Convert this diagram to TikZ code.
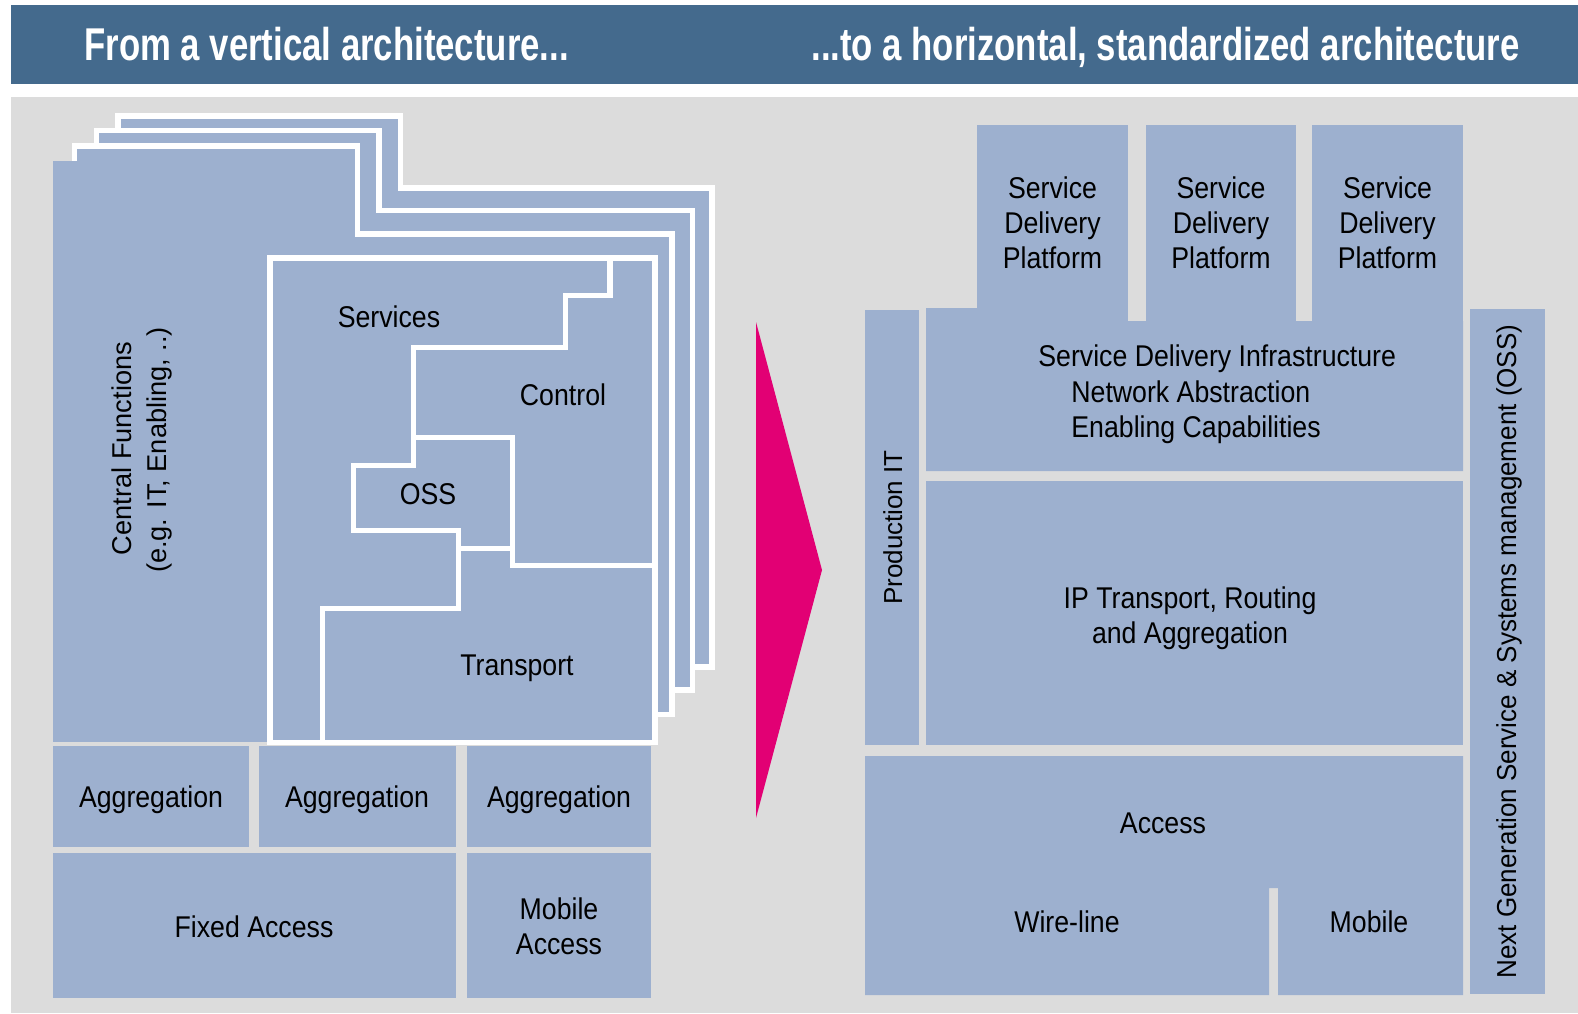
\documentclass[tikz,border=0pt]{standalone}
\usepackage{fontspec}
\setmainfont{Liberation Sans}
\newfontfamily\condf[FakeStretch=0.89]{Liberation Sans}
\newfontfamily\ngf[FakeStretch=0.95]{Liberation Sans}
\newfontfamily\headf[FakeStretch=0.755]{Liberation Sans}
\definecolor{blockblue}{HTML}{9DB0CF}
\definecolor{bggray}{HTML}{DCDCDC}
\definecolor{hdrblue}{HTML}{446A8D}
\definecolor{tmagenta}{HTML}{E20074}
\tikzset{
  blockfill/.style={fill=blockblue, draw=none},
  wline/.style={draw=white, line width=2.9pt, line join=miter, line cap=rect},
  pagebox/.style={fill=blockblue, draw=white, line width=2.9pt, line join=miter},
  lbl/.style={font=\condf\fontsize{15}{17.5}\selectfont, inner sep=0pt, text=black, align=center},
  hlbl/.style={font=\headf\bfseries\fontsize{23}{27}\selectfont, inner sep=0pt, text=white},
  rlbl/.style={font=\fontsize{13.6}{17.5}\selectfont, inner sep=0pt, text=black, rotate=90, anchor=base},
}
\begin{document}
\begin{tikzpicture}[x=0.5pt,y=-0.5pt]
\useasboundingbox (0,0) rectangle (1578,1013);
\fill[white] (0,0) rectangle (1578,1013);
% header
\fill[hdrblue] (11,5) rectangle (1578,84);
\node[hlbl, anchor=base west] (h1) at (84,60) {From a vertical architecture...};
\node[hlbl, anchor=base west] (h2) at (811,60) {...to a horizontal, standardized architecture};
% gray panel
\fill[bggray] (11,97) rectangle (1578,1013);

% ---------- left: stacked vertical architecture ----------
\draw[pagebox] (118,116) -- (400.5,116) -- (400.5,188) -- (712,188) -- (712,667) -- (118,667) -- cycle;
\draw[pagebox] (96.5,130.5) -- (379,130.5) -- (379,210.5) -- (692.5,210.5) -- (692.5,690) -- (96.5,690) -- cycle;
\draw[pagebox] (74.5,146) -- (357.5,146) -- (357.5,234) -- (672,234) -- (672,714.5) -- (74.5,714.5) -- cycle;
\fill[blockblue] (52.5,161) rectangle (300,741.5);
\draw[pagebox] (270,258) rectangle (655,742.5);
\draw[wline] (610,258) -- (610,295.5) -- (565.5,295.5) -- (565.5,347.5) -- (413.5,347.5) -- (413.5,465.5) -- (353.5,465.5) -- (353.5,530.5) -- (458.5,530.5) -- (458.5,608.5) -- (322.5,608.5) -- (322.5,742.5);
\draw[wline] (413.5,437.5) -- (512.5,437.5) -- (512.5,565.5) -- (655,565.5);
\draw[wline] (458.5,548.5) -- (512.5,548.5);
\node[lbl, anchor=base] (services) at (389,327) {Services};
\node[lbl, anchor=base] (control) at (563,405) {Control};
\node[lbl, anchor=base] (oss) at (428,504) {OSS};
\node[lbl, anchor=base] (transport) at (517,675) {Transport};
\node[rlbl] (cf1) at (131,448.5) {Central Functions};
\node[rlbl] (cf2) at (166,450) {(e.g. IT, Enabling, ..)};

% aggregation and access
\fill[blockblue] (52.7,746) rectangle (249,847);
\fill[blockblue] (259,746) rectangle (455.6,847);
\fill[blockblue] (466.8,746) rectangle (651,847);
\fill[blockblue] (52.7,853) rectangle (455.6,998);
\fill[blockblue] (466.8,853) rectangle (651,998);
\node[lbl, anchor=base] (agg1) at (151,807) {Aggregation};
\node[lbl, anchor=base] (agg2) at (357,807) {Aggregation};
\node[lbl, anchor=base] (agg3) at (559,807) {Aggregation};
\node[lbl, anchor=base] (fixed) at (254,937) {Fixed Access};
\node[lbl] (mobacc) at (559,926.7) {Mobile\\Access};

% arrow
\fill[tmagenta] (756,322) -- (822,570) -- (756,818) -- cycle;

% ---------- right: horizontal architecture ----------
\fill[blockblue] (977,125) rectangle (1128,330);
\fill[blockblue] (1146,125) rectangle (1296,330);
\fill[blockblue] (1312,125) rectangle (1463,330);
\fill[blockblue] (926,308) -- (977,308) -- (977,321) -- (1463,321) -- (1463,471) -- (926,471) -- cycle;
\fill[blockblue] (865,310) rectangle (919,745);
\fill[blockblue] (926,481) rectangle (1463,745);
\fill[blockblue] (865,756) -- (1463,756) -- (1463,995) -- (1278,995) -- (1278,888) -- (1269,888) -- (1269,995) -- (865,995) -- cycle;
\fill[blockblue] (1470,309) rectangle (1545,994);

\node[lbl] (sdp1) at (1052.5,222.3) {Service\\Delivery\\Platform};
\node[lbl] (sdp2) at (1221,222.3) {Service\\Delivery\\Platform};
\node[lbl] (sdp3) at (1387.5,222.3) {Service\\Delivery\\Platform};
\node[lbl, anchor=base west] (sdi1) at (1038,366) {Service Delivery Infrastructure};
\node[lbl, anchor=base west] (sdi2) at (1071,402) {Network Abstraction};
\node[lbl, anchor=base west] (sdi3) at (1071,437) {Enabling Capabilities};
\node[lbl] (ip) at (1190,618.4) {IP Transport, Routing\\and Aggregation};
\node[lbl, anchor=base] (access) at (1163,833) {Access};
\node[lbl, anchor=base] (wire) at (1067,932.5) {Wire-line};
\node[lbl, anchor=base] (mobile) at (1369,932.5) {Mobile};
\node[rlbl, font=\fontsize{13}{16}\selectfont] (prodit) at (902,527.5) {Production IT};
\node[rlbl, font=\ngf\fontsize{13.7}{16}\selectfont] (ngoss) at (1516,651.5) {Next Generation Service \& Systems management (OSS)};
\end{tikzpicture}
\end{document}
